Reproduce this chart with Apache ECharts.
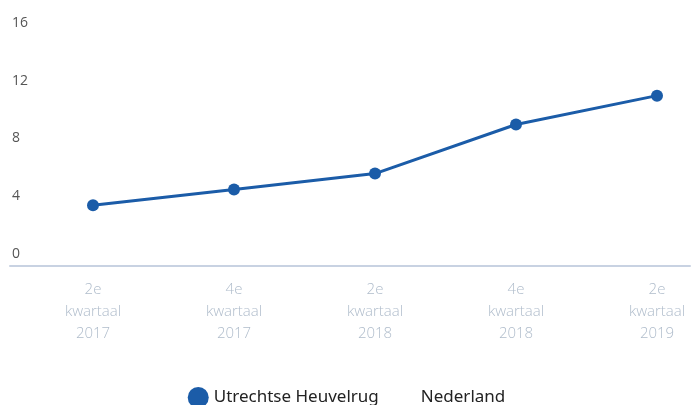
<!DOCTYPE html>
<html><head><meta charset="utf-8">
<script src="https://cdn.jsdelivr.net/npm/echarts@6/dist/echarts.min.js"></script>
<style>html,body{margin:0;padding:0;background:#fff}#c{width:693px;height:405px}</style>
</head><body><div id="c"></div>
<script>
const categories = ["2e\nkwartaal\n2017","4e\nkwartaal\n2017","2e\nkwartaal\n2018","4e\nkwartaal\n2018","2e\nkwartaal\n2019"];
const utrechtseHeuvelrug = [4.2, 5.3, 6.4, 9.8, 11.8];
const nederland = [];
const yTicks = [0, 4, 8, 12, 16];

const chart = echarts.init(document.getElementById('c'));
chart.setOption({
  animation: false,
  backgroundColor: '#ffffff',
  textStyle: { fontFamily: 'Noto Sans' },
  grid: [
    { left: 93, right: 36, top: 35, bottom: 139 },
    { left: 10, right: 3, top: 35, bottom: 139 }
  ],
  xAxis: [
    { type: 'category', gridIndex: 0, data: categories, boundaryGap: false,
      axisLine: { show: false }, axisTick: { show: false },
      axisLabel: { color: '#afbccb', fontSize: 15, lineHeight: 22, margin: 13, fontFamily: 'Open Sans', fontWeight: 300 } },
    { type: 'category', gridIndex: 1, data: ['a'], 
      axisLine: { show: true, lineStyle: { color: '#c8d2e2', width: 2 } },
      axisTick: { show: false }, axisLabel: { show: false } }
  ],
  yAxis: [
    { type: 'value', gridIndex: 0, min: yTicks[0], max: yTicks[yTicks.length-1], interval: 4,
      axisLine: { show: false }, axisTick: { show: false }, splitLine: { show: false },
      axisLabel: { align: 'left', margin: 81, verticalAlign: 'bottom', padding: [0,0,5,0], color: '#555', fontSize: 14, fontFamily: 'Open Sans' } },
    { type: 'value', gridIndex: 1, show: false, min: 0, max: 16 }
  ],
  legend: {
    bottom: -8, left: 'center', itemWidth: 21, itemHeight: 21, itemGap: 16,
    textStyle: { fontSize: 17, color: '#222', fontFamily: 'Noto Sans' },
    data: [
      { name: 'Utrechtse Heuvelrug', icon: 'circle' },
      { name: 'Nederland', icon: 'circle', itemStyle: { color: 'rgba(0,0,0,0)' } }
    ]
  },
  series: [
    { name: 'Utrechtse Heuvelrug', type: 'line', xAxisIndex: 0, yAxisIndex: 0,
      data: utrechtseHeuvelrug, symbol: 'circle', symbolSize: 12,
      lineStyle: { color: '#1b5ca8', width: 3 }, itemStyle: { color: '#1b5ca8' } },
    { name: 'Nederland', type: 'line', xAxisIndex: 0, yAxisIndex: 0, data: nederland,
      itemStyle: { color: 'rgba(0,0,0,0)' }, lineStyle: { color: 'rgba(0,0,0,0)' } }
  ]
});
</script></body></html>
